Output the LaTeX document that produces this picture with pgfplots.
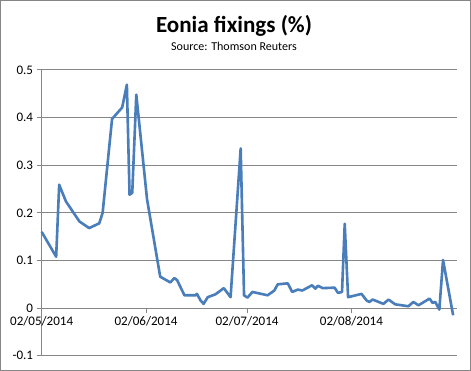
\documentclass[border=0pt]{standalone}
\usepackage{pgfplots}
\pgfplotsset{compat=1.18}
\usepackage{fontspec}
\setmainfont{Carlito}
\definecolor{exblue}{HTML}{4A7EBB}
\definecolor{gridgray}{HTML}{868686}
\begin{document}
\begin{tikzpicture}
\begin{axis}[
  scale only axis, width=412bp, height=284bp,
  xmin=0, xmax=123.2, ymin=-0.1, ymax=0.5,
  axis x line=middle, axis y line=left,
  axis line style={-, gridgray, line width=0.8bp},
  hide obscured x ticks=false, hide obscured y ticks=false,
  xtick={0,31,61,92},
  xticklabels={02/05/2014,02/06/2014,02/07/2014,02/08/2014},
  ytick={-0.1,0,0.1,0.2,0.3,0.4,0.5},
  yticklabels={-0.1,0,0.1,0.2,0.3,0.4,0.5},
  ymajorgrids, grid style={gridgray, line width=0.8bp},
  tick align=outside, major tick length=5bp,
  tick style={gridgray, line width=0.8bp},
  ticklabel style={font=\fontsize{13}{15}\selectfont, text=black},
  clip=false,
]
\addplot[exblue, line width=2.6bp, line join=round] coordinates {
(0,0.160) (4.3,0.108) (5.2,0.259) (7.2,0.224) (11.2,0.182) (14.1,0.168)
(17.1,0.178) (18.1,0.200) (20.9,0.397) (23.9,0.421) (25.3,0.469) (26.1,0.238)
(26.9,0.242) (28.1,0.448) (31.3,0.228) (35.2,0.066) (38.2,0.054) (39.4,0.063)
(40.2,0.059) (42.4,0.027) (45.7,0.027) (46.1,0.030) (47.2,0.016) (48.1,0.009)
(49.3,0.023) (51.6,0.029) (54.1,0.042) (56.1,0.023) (59.1,0.335) (60.1,0.027)
(61.1,0.022) (62.6,0.034) (67.1,0.027) (69.1,0.037) (70.1,0.050) (73.1,0.052)
(74.4,0.034) (76.1,0.039) (77.4,0.037) (80.3,0.048) (81.3,0.041) (82.0,0.047)
(83.5,0.042) (87.0,0.043) (88.0,0.032) (89.2,0.034) (90.0,0.177) (91.0,0.023)
(95.0,0.030) (96.5,0.016) (97.3,0.013) (98.3,0.018) (101.5,0.009) (103.0,0.018)
(105.0,0.008) (108.9,0.004) (110.4,0.013) (111.9,0.006) (115.2,0.020) (116.1,0.011)
(116.9,0.013) (118.1,-0.003) (119.2,0.101) (122.2,-0.015)
};
\draw[gridgray, line width=0.8bp] ([xshift=-41bp,yshift=-14bp]rel axis cs:0,0) rectangle ([xshift=14bp,yshift=69bp]rel axis cs:1,1);
\node[anchor=base, font=\bfseries\fontsize{23}{26}\selectfont] at ([yshift=36.7bp]rel axis cs:0.4636,1) {Eonia fixings (\%)};
\node[anchor=base, font=\fontsize{12}{14}\selectfont] at ([yshift=19.3bp]rel axis cs:0.4636,1) {Source: Thomson Reuters};
\end{axis}
\end{tikzpicture}
\end{document}
